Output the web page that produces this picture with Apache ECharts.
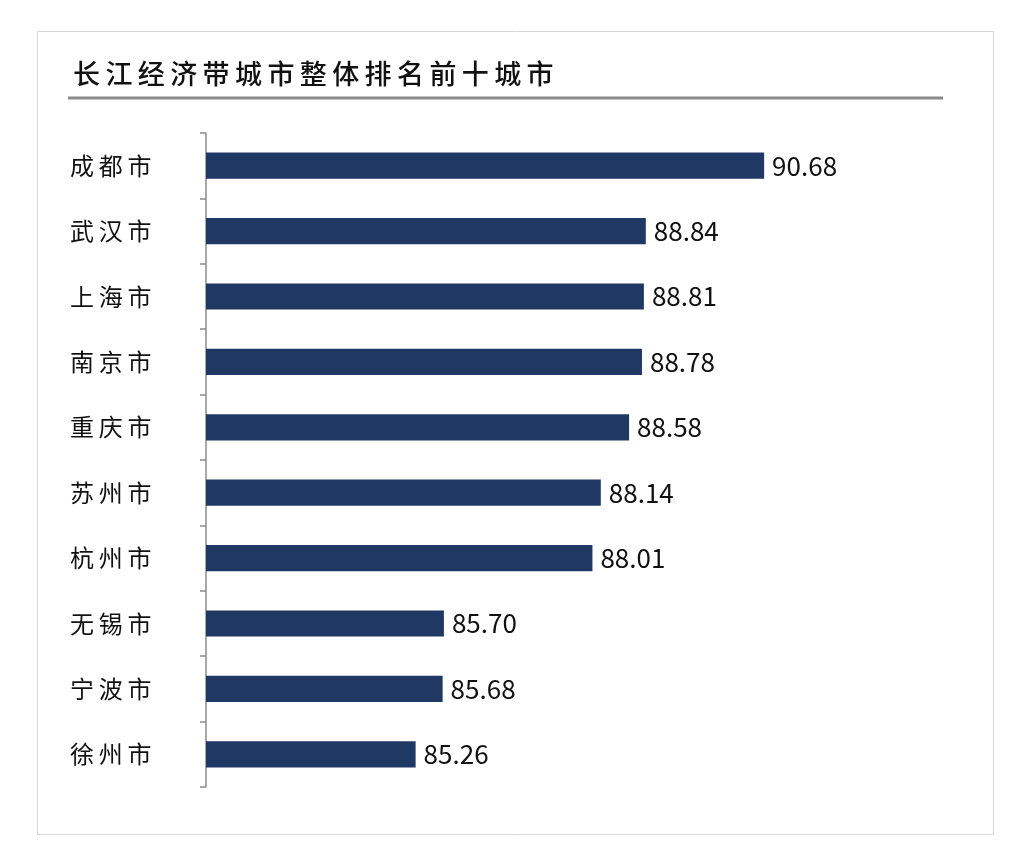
<!DOCTYPE html>
<html>
<head>
<meta charset="utf-8">
<script src="https://cdn.jsdelivr.net/npm/echarts@6/dist/echarts.min.js"></script>
<style>
  html, body { margin: 0; padding: 0; background: #fff; }
  #main { width: 1020px; height: 853px; }
</style>
</head>
<body>
<div id="main"></div>
<script>
// 数据
var cities = ['成都市', '武汉市', '上海市', '南京市', '重庆市', '苏州市', '杭州市', '无锡市', '宁波市', '徐州市'];
var scores = [90.68, 88.84, 88.81, 88.78, 88.58, 88.14, 88.01, 85.70, 85.68, 85.26];
var titleText = '长江经济带城市整体排名前十城市';

// 字间距：用细空格把汉字隔开（zrender 不认 letterSpacing）
function spaced(s) {
    return s.split('').join('\u2009');
}

var chart = echarts.init(document.getElementById('main'));
chart.setOption({
    backgroundColor: '#fff',
    animation: false,
    title: {
        text: spaced(titleText),
        left: 68,
        top: 55,
        textStyle: {
            fontFamily: 'Noto Sans CJK SC',
            fontSize: 27,
            fontWeight: 500,
            color: '#111'
        }
    },
    graphic: [
        {
            type: 'rect',
            shape: { x: 37.5, y: 31.5, width: 956, height: 803 },
            style: { fill: 'none', stroke: '#d6d6d6', lineWidth: 1 },
            silent: true
        },
        {
            type: 'line',
            shape: { x1: 68, y1: 98, x2: 943, y2: 98 },
            style: { stroke: '#8a8a8a', lineWidth: 3 },
            silent: true
        }
    ],
    grid: {
        left: 206,
        top: 133,
        right: 171,
        bottom: 66,
        containLabel: false
    },
    xAxis: {
        type: 'value',
        min: 82,
        max: 92,
        show: false
    },
    yAxis: {
        type: 'category',
        data: cities,
        inverse: true,
        axisLine: { show: true, lineStyle: { color: '#8c8c8c', width: 1.5 } },
        axisTick: { show: true, length: 6, lineStyle: { color: '#8c8c8c', width: 1.5 } },
        axisLabel: {
            align: 'left',
            margin: 136,
            fontFamily: 'Noto Sans CJK SC',
            fontSize: 24,
            color: '#111',
            formatter: spaced
        },
        splitLine: { show: false }
    },
    series: [{
        type: 'bar',
        data: scores,
        barWidth: '40%',
        itemStyle: { color: '#1f3864' },
        label: {
            show: true,
            position: 'right',
            distance: 8,
            fontFamily: 'Noto Sans CJK SC',
            fontSize: 26,
            color: '#111',
            formatter: function (p) { return p.value.toFixed(2); }
        }
    }]
});
</script>
</body>
</html>
